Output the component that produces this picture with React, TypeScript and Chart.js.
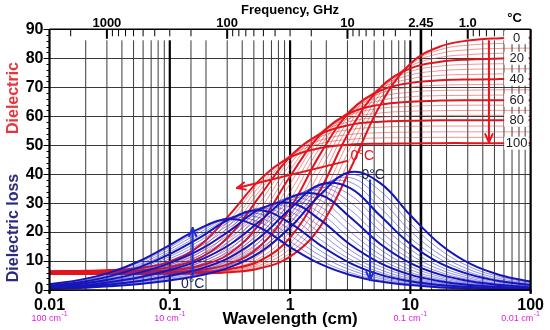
import React, { useEffect, useRef } from "react";
import { Chart, registerables } from "chart.js";

Chart.register(...registerables);

const FONT = "'Liberation Sans', Arial, Helvetica, sans-serif";

// Wavelength sample points (cm)
const WAVELENGTH_CM = [0.01, 0.0178, 0.0316, 0.0562, 0.1, 0.178, 0.316, 0.562, 1, 1.78, 3.16, 5.62, 10, 17.8, 31.6, 56.2, 100];

// Temperatures (°C)
const TEMPERATURES_C = [0, 5, 10, 15, 20, 25, 30, 35, 40, 45, 50, 55, 60, 65, 70, 75, 80, 85, 90, 95, 100];
const BOLD_TEMPERATURES_C = [0, 20, 40, 60, 80, 100];

// Dielectric constant (ε') per temperature, at WAVELENGTH_CM
const DIELECTRIC = [
  [5.5, 5.5, 5.5, 5.5, 5.6, 5.7, 6.1, 7.5, 11.5, 21.9, 41.7, 63.9, 78.1, 84.1, 86.2, 86.9, 87.1],
  [5.6, 5.6, 5.6, 5.6, 5.6, 5.8, 6.3, 8.0, 12.8, 24.7, 45.5, 66.2, 78.1, 83.0, 84.6, 85.1, 85.3],
  [5.6, 5.6, 5.6, 5.6, 5.7, 5.9, 6.6, 8.6, 14.3, 27.8, 49.1, 67.9, 77.9, 81.7, 83.0, 83.4, 83.5],
  [5.7, 5.7, 5.7, 5.7, 5.8, 6.0, 6.8, 9.3, 16.1, 31.1, 52.3, 69.1, 77.3, 80.3, 81.3, 81.7, 81.8],
  [5.7, 5.7, 5.7, 5.8, 5.9, 6.2, 7.2, 10.1, 18.1, 34.5, 55.2, 69.8, 76.5, 78.8, 79.6, 79.9, 80.0],
  [5.8, 5.8, 5.8, 5.8, 5.9, 6.3, 7.5, 11.1, 20.3, 37.8, 57.6, 70.1, 75.4, 77.3, 77.9, 78.1, 78.2],
  [5.8, 5.8, 5.8, 5.9, 6.0, 6.5, 8.0, 12.2, 22.8, 41.1, 59.4, 70.0, 74.2, 75.7, 76.2, 76.3, 76.4],
  [5.9, 5.9, 5.9, 5.9, 6.1, 6.7, 8.5, 13.5, 25.4, 44.2, 60.8, 69.5, 72.9, 74.1, 74.4, 74.6, 74.6],
  [5.9, 5.9, 5.9, 6.0, 6.2, 6.9, 9.1, 15.1, 28.2, 46.9, 61.7, 68.8, 71.5, 72.4, 72.7, 72.8, 72.8],
  [6.0, 6.0, 6.0, 6.1, 6.4, 7.2, 9.8, 16.8, 31.1, 49.3, 62.1, 67.9, 70.0, 70.7, 70.9, 71.0, 71.0],
  [6.0, 6.0, 6.1, 6.2, 6.5, 7.6, 10.6, 18.7, 33.9, 51.1, 62.1, 66.7, 68.3, 68.9, 69.0, 69.1, 69.1],
  [6.1, 6.1, 6.1, 6.2, 6.7, 7.9, 11.6, 20.8, 36.7, 52.6, 61.7, 65.4, 66.7, 67.1, 67.2, 67.3, 67.3],
  [6.1, 6.1, 6.2, 6.3, 6.8, 8.4, 12.7, 23.0, 39.2, 53.6, 61.1, 64.0, 65.0, 65.4, 65.5, 65.5, 65.5],
  [6.2, 6.2, 6.2, 6.4, 7.1, 8.9, 14.0, 25.4, 41.5, 54.2, 60.4, 62.7, 63.4, 63.7, 63.8, 63.8, 63.8],
  [6.2, 6.2, 6.3, 6.6, 7.3, 9.5, 15.5, 27.8, 43.4, 54.4, 59.3, 61.1, 61.7, 61.9, 62.0, 62.0, 62.0],
  [6.3, 6.3, 6.4, 6.7, 7.6, 10.2, 17.1, 30.2, 44.9, 54.3, 58.2, 59.6, 60.1, 60.2, 60.3, 60.3, 60.3],
  [6.3, 6.4, 6.5, 6.8, 7.9, 11.1, 18.9, 32.5, 46.0, 53.8, 57.0, 58.1, 58.4, 58.6, 58.6, 58.6, 58.6],
  [6.4, 6.4, 6.6, 7.0, 8.3, 12.0, 20.7, 34.4, 46.5, 52.9, 55.4, 56.2, 56.5, 56.6, 56.6, 56.6, 56.6],
  [6.4, 6.5, 6.6, 7.2, 8.7, 13.0, 22.5, 36.0, 46.6, 51.7, 53.7, 54.3, 54.5, 54.6, 54.6, 54.6, 54.6],
  [6.5, 6.5, 6.7, 7.4, 9.2, 14.1, 24.3, 37.3, 46.4, 50.5, 52.0, 52.5, 52.6, 52.7, 52.7, 52.7, 52.7],
  [6.5, 6.6, 6.9, 7.6, 9.8, 15.4, 26.1, 38.1, 45.8, 49.0, 50.2, 50.5, 50.6, 50.7, 50.7, 50.7, 50.7],
];

// Dielectric loss (ε'') per temperature, at WAVELENGTH_CM
const DIELECTRIC_LOSS = [
  [0.4, 0.7, 1.3, 2.1, 3.3, 5.0, 7.9, 13.0, 21.6, 32.9, 40.7, 36.9, 25.8, 15.7, 9.0, 5.1, 2.9],
  [0.5, 0.8, 1.4, 2.3, 3.7, 5.5, 8.6, 14.2, 23.2, 34.3, 40.0, 34.2, 23.0, 13.8, 7.9, 4.5, 2.5],
  [0.5, 0.9, 1.6, 2.6, 4.1, 6.1, 9.4, 15.5, 24.9, 35.4, 38.8, 31.3, 20.4, 12.1, 6.9, 3.9, 2.2],
  [0.6, 1.0, 1.7, 2.9, 4.5, 6.7, 10.3, 16.8, 26.5, 36.1, 37.2, 28.4, 18.0, 10.6, 6.0, 3.4, 1.9],
  [0.6, 1.1, 1.9, 3.1, 4.9, 7.3, 11.3, 18.2, 28.0, 36.4, 35.2, 25.6, 15.9, 9.2, 5.3, 3.0, 1.7],
  [0.7, 1.2, 2.1, 3.4, 5.4, 8.0, 12.3, 19.6, 29.4, 36.2, 32.8, 22.9, 14.0, 8.0, 4.6, 2.6, 1.5],
  [0.7, 1.3, 2.3, 3.8, 5.8, 8.7, 13.4, 21.0, 30.6, 35.5, 30.3, 20.4, 12.2, 7.0, 4.0, 2.2, 1.3],
  [0.8, 1.4, 2.5, 4.1, 6.4, 9.5, 14.5, 22.5, 31.5, 34.4, 27.7, 18.0, 10.7, 6.1, 3.5, 2.0, 1.1],
  [0.9, 1.5, 2.7, 4.4, 6.9, 10.3, 15.7, 23.8, 32.0, 32.9, 25.1, 15.9, 9.3, 5.3, 3.0, 1.7, 0.9],
  [0.9, 1.7, 2.9, 4.8, 7.5, 11.2, 16.9, 25.1, 32.2, 31.0, 22.5, 14.0, 8.1, 4.6, 2.6, 1.5, 0.8],
  [1.0, 1.8, 3.1, 5.2, 8.1, 12.0, 18.1, 26.2, 31.9, 28.8, 20.1, 12.2, 7.0, 4.0, 2.3, 1.3, 0.7],
  [1.1, 1.9, 3.3, 5.6, 8.7, 13.0, 19.3, 27.2, 31.2, 26.5, 17.8, 10.7, 6.1, 3.5, 2.0, 1.1, 0.6],
  [1.2, 2.1, 3.6, 6.0, 9.3, 13.9, 20.5, 27.9, 30.1, 24.2, 15.7, 9.3, 5.3, 3.0, 1.7, 1.0, 0.5],
  [1.3, 2.2, 3.8, 6.4, 10.1, 15.0, 21.7, 28.3, 28.7, 21.8, 13.8, 8.1, 4.6, 2.6, 1.5, 0.8, 0.5],
  [1.3, 2.4, 4.1, 6.9, 10.8, 16.0, 22.7, 28.4, 27.0, 19.6, 12.1, 7.0, 4.0, 2.3, 1.3, 0.7, 0.4],
  [1.4, 2.5, 4.4, 7.4, 11.6, 17.0, 23.7, 28.1, 25.1, 17.4, 10.6, 6.1, 3.5, 2.0, 1.1, 0.6, 0.4],
  [1.5, 2.7, 4.7, 7.9, 12.4, 18.1, 24.5, 27.5, 23.1, 15.5, 9.3, 5.3, 3.0, 1.7, 1.0, 0.5, 0.3],
  [1.6, 2.9, 5.0, 8.4, 13.2, 19.0, 24.9, 26.3, 20.9, 13.6, 8.0, 4.6, 2.6, 1.5, 0.8, 0.5, 0.3],
  [1.7, 3.1, 5.3, 8.9, 14.0, 19.9, 25.1, 24.9, 18.8, 11.9, 7.0, 4.0, 2.2, 1.3, 0.7, 0.4, 0.2],
  [1.8, 3.3, 5.7, 9.5, 14.8, 20.7, 25.0, 23.3, 16.7, 10.3, 6.0, 3.4, 1.9, 1.1, 0.6, 0.4, 0.2],
  [2.0, 3.5, 6.0, 10.0, 15.5, 21.3, 24.5, 21.5, 14.8, 9.0, 5.2, 2.9, 1.7, 0.9, 0.5, 0.3, 0.2],
];

// Axis ranges / ticks
const WAVELENGTH_MIN = 0.01;
const WAVELENGTH_MAX = 100;
const Y_MIN = 0;
const Y_MAX = 90;
const Y_STEP = 10;

// Top axis (frequency, GHz)
const FREQ_MAJOR_GHZ = [1000, 100, 10, 2.45, 1.0];
const FREQ_MAJOR_LABELS = ["1000", "100", "10", "2.45", "1.0"];
const FREQ_MINOR_GHZ = [2000, 900, 800, 700, 600, 500, 400, 300, 200, 90, 80, 70, 60, 50, 40, 30, 20, 9, 8, 7, 6, 5, 4, 3, 2, 0.9, 0.8, 0.7, 0.6, 0.5];
const LIGHT_SPEED_CM_GHZ = 30; // λ(cm) = 30 / f(GHz)

// Wavenumber labels under the bottom axis
const WAVENUMBER_AT_CM = [0.01, 0.1, 10, 100];
const WAVENUMBER_TEXT = ["100 cm", "10 cm", "0.1 cm", "0.01 cm"];

// Annotations in data coordinates (wavelength cm, value)
const ARROW_RED_DOWN = [45, 86, 45, 51];
const ARROW_RED_SHIFT = [2.94, 44.5, 0.362, 35.2];
const ARROW_BLUE_UP = [0.155, 4.6, 0.155, 21.4];
const ARROW_BLUE_DOWN = [4.62, 37.9, 4.62, 3.4];
const LABEL_RED_0C = [3.18, 46.2];
const LABEL_BLUE_0C_TOP = [3.92, 39.7];
const LABEL_BLUE_0C_BOTTOM = [0.155, 2.1];

const RED_BOLD = "#e4141c";
const RED_THIN = "rgba(232, 60, 60, 0.62)";
const BLUE_BOLD = "#1616b8";
const BLUE_THIN = "rgba(50, 50, 215, 0.6)";
const RED_ARROW = "#e8141e";
const BLUE_ARROW = "#1e2ed6";
const NAVY_TEXT = "#1d1d52";

const isDecade = (v: number) => Math.abs(Math.log10(v) - Math.round(Math.log10(v))) < 1e-6;

function drawLine(ctx: CanvasRenderingContext2D, x1: number, y1: number, x2: number, y2: number) {
  ctx.beginPath();
  ctx.moveTo(x1, y1);
  ctx.lineTo(x2, y2);
  ctx.stroke();
}

function drawArrow(ctx: CanvasRenderingContext2D, x1: number, y1: number, x2: number, y2: number, color: string, width: number, head: number) {
  ctx.save();
  ctx.strokeStyle = color;
  ctx.lineWidth = width;
  ctx.lineCap = "round";
  ctx.lineJoin = "round";
  drawLine(ctx, x1, y1, x2, y2);
  const ang = Math.atan2(y2 - y1, x2 - x1);
  const spread = 0.42;
  ctx.beginPath();
  ctx.moveTo(x2 - head * Math.cos(ang - spread), y2 - head * Math.sin(ang - spread));
  ctx.lineTo(x2, y2);
  ctx.lineTo(x2 - head * Math.cos(ang + spread), y2 - head * Math.sin(ang + spread));
  ctx.stroke();
  ctx.restore();
}

const decorPlugin = {
  id: "decor",
  beforeDatasetsDraw(chart: any) {
    const { ctx, chartArea: a, scales } = chart;
    const x = scales.x;
    const y = scales.y;
    const xTop = scales.xTop;
    ctx.save();
    // horizontal grid
    ctx.strokeStyle = "#3a3a3a";
    ctx.lineWidth = 1;
    y.ticks.forEach((t: any) => {
      const py = Math.round(y.getPixelForValue(t.value)) + 0.5;
      drawLine(ctx, a.left, py, a.right, py);
    });
    // vertical grid (starts a bit below the top axis)
    const gridTop = a.top + 11;
    x.ticks.forEach((t: any) => {
      const px = x.getPixelForValue(t.value);
      if (t.value <= WAVELENGTH_MIN || t.value >= WAVELENGTH_MAX) return;
      if (isDecade(t.value)) {
        ctx.strokeStyle = "#000";
        ctx.lineWidth = 2.2;
      } else {
        ctx.strokeStyle = "#3a3a3a";
        ctx.lineWidth = 1;
      }
      drawLine(ctx, px, gridTop, px, a.bottom);
    });
    // top axis ticks (pointing into plot)
    ctx.strokeStyle = "#000";
    xTop.ticks.forEach((t: any, i: number) => {
      const px = xTop.getPixelForValue(t.value);
      const major = i < FREQ_MAJOR_GHZ.length;
      if (major && FREQ_MAJOR_LABELS[i] === "2.45") {
        ctx.lineWidth = 2.6;
        drawLine(ctx, px, a.top, px, a.bottom);
      } else if (major) {
        ctx.lineWidth = 2;
        drawLine(ctx, px, a.top, px, a.top + 9.5);
      } else {
        ctx.lineWidth = 1;
        drawLine(ctx, px, a.top, px, a.top + 7);
      }
    });
    ctx.restore();
  },
  afterDatasetsDraw(chart: any) {
    const { ctx, chartArea: a, scales } = chart;
    const x = scales.x;
    const y = scales.y;
    const X = (v: number) => x.getPixelForValue(v);
    const Y = (v: number) => y.getPixelForValue(v);
    ctx.save();

    // frame / axes
    ctx.strokeStyle = "#000";
    ctx.lineWidth = 1.5;
    drawLine(ctx, a.left, a.top, a.right, a.top);
    drawLine(ctx, a.left, a.bottom, a.right, a.bottom);
    ctx.lineWidth = 2.2;
    drawLine(ctx, a.left, a.top, a.left, a.bottom + 3);
    drawLine(ctx, a.right, a.top, a.right, a.bottom + 3);
    // left axis minor ticks
    ctx.lineWidth = 1;
    for (let v = Y_MIN; v <= Y_MAX; v += 2) {
      const py = Math.round(Y(v)) + 0.5;
      const len = v % Y_STEP === 0 ? 6 : 3;
      drawLine(ctx, a.left - len, py, a.left, py);
    }
    // bottom decade ticks
    x.ticks.forEach((t: any) => {
      if (!isDecade(t.value)) return;
      const px = X(t.value);
      ctx.lineWidth = 2;
      drawLine(ctx, px, a.bottom, px, a.bottom + 4);
    });

    // temperature labels on red curves (right side)
    ctx.font = `13px ${FONT}`;
    ctx.textAlign = "center";
    ctx.textBaseline = "middle";
    BOLD_TEMPERATURES_C.forEach((temp) => {
      const idx = TEMPERATURES_C.indexOf(temp);
      const row = DIELECTRIC[idx];
      const py = Y(row[row.length - 1]);
      ctx.fillStyle = "#fff";
      ctx.fillRect(a.right - 26.5, py - 6.5, 24.5, 13);
      ctx.fillStyle = "#1a1a1a";
      ctx.fillText(String(temp), a.right - 14, py + 0.5);
    });

    // arrows
    const arrows: [number[], string][] = [
      [ARROW_RED_DOWN, RED_ARROW],
      [ARROW_RED_SHIFT, RED_ARROW],
      [ARROW_BLUE_UP, BLUE_ARROW],
      [ARROW_BLUE_DOWN, BLUE_ARROW],
    ];
    arrows.forEach(([p, c]) => drawArrow(ctx, X(p[0]), Y(p[1]), X(p[2]), Y(p[3]), c, 2, 9));

    // 0°C annotations
    ctx.font = `14px ${FONT}`;
    ctx.textBaseline = "middle";
    ctx.textAlign = "left";
    ctx.fillStyle = RED_ARROW;
    ctx.fillText("0°C", X(LABEL_RED_0C[0]), Y(LABEL_RED_0C[1]));
    ctx.fillStyle = NAVY_TEXT;
    ctx.fillText("0°C", X(LABEL_BLUE_0C_TOP[0]), Y(LABEL_BLUE_0C_TOP[1]));
    ctx.textAlign = "center";
    ctx.fillText("0°C", X(LABEL_BLUE_0C_BOTTOM[0]), Y(LABEL_BLUE_0C_BOTTOM[1]));
    ctx.restore();
  },
  afterDraw(chart: any) {
    const { ctx, chartArea: a, scales } = chart;
    const x = scales.x;
    ctx.save();
    ctx.fillStyle = "#000";
    ctx.textBaseline = "alphabetic";
    ctx.textAlign = "center";
    ctx.font = `bold 13px ${FONT}`;
    ctx.fillText("Frequency, GHz", (a.left + a.right) / 2, 14);
    ctx.fillText("°C", a.right - 16, 22);
    ctx.font = `bold 17px ${FONT}`;
    ctx.fillText("Wavelength (cm)", (a.left + a.right) / 2, 324);

    // wavenumber labels
    ctx.fillStyle = "#e41ee4";
    WAVENUMBER_AT_CM.forEach((w, i) => {
      const main = WAVENUMBER_TEXT[i];
      ctx.font = `9px ${FONT}`;
      const w1 = ctx.measureText(main).width;
      ctx.font = `7px ${FONT}`;
      const w2 = ctx.measureText("-1").width;
      const total = w1 + w2 + 0.5;
      let cx = x.getPixelForValue(w);
      cx = Math.min(cx, 545 - total / 2 - 5);
      const left = cx - total / 2;
      ctx.textAlign = "left";
      ctx.font = `9px ${FONT}`;
      ctx.fillText(main, left, 321);
      ctx.font = `7px ${FONT}`;
      ctx.fillText("-1", left + w1 + 0.5, 316);
    });

    // rotated y titles
    ctx.textAlign = "center";
    ctx.textBaseline = "middle";
    ctx.font = `bold 16px ${FONT}`;
    ctx.save();
    ctx.translate(14, 98);
    ctx.rotate(-Math.PI / 2);
    ctx.fillStyle = "#e8343c";
    ctx.fillText("Dielectric", 0, 0);
    ctx.restore();
    ctx.save();
    ctx.translate(14, 228);
    ctx.rotate(-Math.PI / 2);
    ctx.fillStyle = "#2b2b80";
    ctx.fillText("Dielectric loss", 0, 0);
    ctx.restore();
    ctx.restore();
  },
};

export default function App() {
  const canvasRef = useRef<HTMLCanvasElement | null>(null);

  useEffect(() => {
    if (!canvasRef.current) return;
    const toPoints = (row: number[]) => row.map((v, i) => ({ x: WAVELENGTH_CM[i], y: v }));
    const datasets: any[] = [];
    TEMPERATURES_C.forEach((t, i) => {
      const bold = BOLD_TEMPERATURES_C.includes(t);
      datasets.push({
        label: `ε'' ${t}°C`,
        data: toPoints(DIELECTRIC_LOSS[i]),
        borderColor: bold ? BLUE_BOLD : BLUE_THIN,
        borderWidth: bold ? 2 : 0.9,
        order: bold ? 0 : 1,
      });
    });
    TEMPERATURES_C.forEach((t, i) => {
      const bold = BOLD_TEMPERATURES_C.includes(t);
      datasets.push({
        label: `ε' ${t}°C`,
        data: toPoints(DIELECTRIC[i]),
        borderColor: bold ? RED_BOLD : RED_THIN,
        borderWidth: bold ? 2 : 0.9,
        order: bold ? 2 : 3,
      });
    });

    const chart = new Chart(canvasRef.current, {
      type: "line",
      data: { datasets },
      options: {
        animation: false,
        responsive: false,
        maintainAspectRatio: false,
        parsing: false as any,
        normalized: true,
        layout: { padding: { left: 0, right: 16.5, top: 0, bottom: 0 } },
        elements: {
          point: { radius: 0, hoverRadius: 0 },
          line: { tension: 0.4, fill: false, borderCapStyle: "round", borderJoinStyle: "round" },
        },
        plugins: { legend: { display: false }, tooltip: { enabled: false } },
        events: [],
        scales: {
          x: {
            type: "logarithmic",
            position: "bottom",
            min: WAVELENGTH_MIN,
            max: WAVELENGTH_MAX,
            grid: { display: false, drawTicks: false },
            border: { display: false },
            ticks: {
              autoSkip: false,
              maxRotation: 0,
              minRotation: 0,
              padding: 6,
              color: "#000",
              font: { family: FONT, size: 16, weight: "bold" },
              callback: (v: any) => (isDecade(Number(v)) ? String(Number(v)) : ""),
            },
            afterFit: (s: any) => {
              s.height = 40;
            },
          },
          xTop: {
            type: "logarithmic",
            position: "top",
            min: WAVELENGTH_MIN,
            max: WAVELENGTH_MAX,
            grid: { display: false, drawTicks: false },
            border: { display: false },
            afterBuildTicks: (s: any) => {
              s.ticks = [...FREQ_MAJOR_GHZ, ...FREQ_MINOR_GHZ].map((f) => ({ value: LIGHT_SPEED_CM_GHZ / f }));
            },
            ticks: {
              autoSkip: false,
              maxRotation: 0,
              minRotation: 0,
              padding: -1.5,
              color: "#000",
              font: { family: FONT, size: 13, weight: "bold" },
              callback: (_v: any, i: number) => (i < FREQ_MAJOR_LABELS.length ? FREQ_MAJOR_LABELS[i] : ""),
            },
            afterFit: (s: any) => {
              s.height = 29.3;
            },
          },
          y: {
            type: "linear",
            position: "left",
            min: Y_MIN,
            max: Y_MAX,
            grid: { display: false, drawTicks: false },
            border: { display: false },
            ticks: {
              stepSize: Y_STEP,
              padding: 6,
              color: "#000",
              font: { family: FONT, size: 16, weight: "bold" },
            },
            afterFit: (s: any) => {
              s.width = 49.5;
            },
          },
        },
      } as any,
      plugins: [decorPlugin],
    });
    return () => chart.destroy();
  }, []);

  return (
    <div style={{ position: "fixed", left: 0, top: 0, width: 550, height: 330, background: "#fff" }}>
      <canvas ref={canvasRef} width={550} height={330} style={{ display: "block", width: 550, height: 330 }} />
    </div>
  );
}
